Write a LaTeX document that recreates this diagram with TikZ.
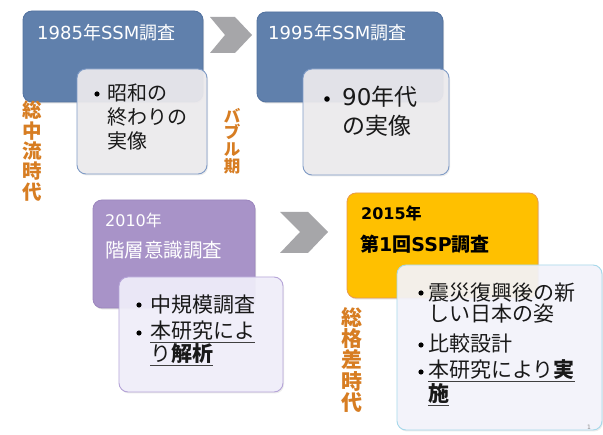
\documentclass[tikz,border=0pt]{standalone}
\usepackage{fontspec}
\setmainfont{Noto Sans CJK JP}
\newfontfamily\lat{DejaVu Sans}
\usetikzlibrary{shadows}
\definecolor{ssmblue}{HTML}{6080AC}
\definecolor{ssmbluedk}{HTML}{5272A0}
\definecolor{ovgray}{HTML}{EDEBEE}
\definecolor{ovblue}{HTML}{7F9BC6}
\definecolor{purp}{HTML}{A893C8}
\definecolor{purpdk}{HTML}{9C86BE}
\definecolor{ovpurp}{HTML}{F1EFFB}
\definecolor{ovpurpdk}{HTML}{B5A4D8}
\definecolor{gold}{HTML}{FFC000}
\definecolor{golddk}{HTML}{E99A4A}
\definecolor{ovcyan}{HTML}{F4F4FC}
\definecolor{ovcyandk}{HTML}{A6D8EA}
\definecolor{chev}{HTML}{A6A6A9}
\definecolor{era}{HTML}{D77D22}
\newcommand{\ulx}[1]{\setbox0\hbox{#1}\rlap{\color{black!75}\raisebox{-4.5pt}{\rule{\wd0}{1.2pt}}}\box0}
\tikzset{
  mainbox/.style={rounded corners=9pt, line width=0.8pt, drop shadow={opacity=0.25, shadow xshift=1pt, shadow yshift=-1.5pt}},
  ovbox/.style={rounded corners=9pt, line width=0.9pt, fill opacity=0.92, drop shadow={opacity=0.15, shadow xshift=1pt, shadow yshift=-1.5pt}},
  chevron/.style={fill=chev},
  ttl/.style={anchor=base west, inner sep=0pt, text=white},
  ln/.style={anchor=base west, inner sep=0pt, text=black!90},
  bul/.style={fill=black},
  eralabel/.style={inner sep=0pt, text=era, align=center},
}
\begin{document}
\begin{tikzpicture}[x=1pt,y=-1pt]
\useasboundingbox (0,0) rectangle (603,435);
\fill[white] (0,0) rectangle (603,435);

% chevrons
\fill[chevron] (210,17) -- (235,17) -- (252,35) -- (235,53) -- (210,53) -- (225,35) -- cycle;
\fill[chevron] (280,212) -- (308,212) -- (328,232) -- (308,253) -- (280,253) -- (300,232) -- cycle;

% box 1
\draw[mainbox, fill=ssmblue, draw=ssmbluedk] (23,11) rectangle (203,102);
\node[ttl, font=\fontsize{18}{20}\selectfont] (t1) at (37,40) {{\lat 1985}年{\lat SSM}調査};
\draw[ovbox, fill=ovgray, draw=ovblue] (77,69) rectangle (207,174);
\fill[bul] (97,94) circle (2.6);
\node[ln, font=\fontsize{20}{24}\selectfont] (a1) at (107,101) {昭和の};
\node[ln, font=\fontsize{20}{24}\selectfont] (a2) at (107,125) {終わりの};
\node[ln, font=\fontsize{20}{24}\selectfont] (a3) at (107,149) {実像};

% box 2
\draw[mainbox, fill=ssmblue, draw=ssmbluedk] (257,12) rectangle (443,102);
\node[ttl, font=\fontsize{18}{20}\selectfont] (t2) at (268,40) {{\lat 1995}年{\lat SSM}調査};
\draw[ovbox, fill=ovgray, draw=ovblue] (303,69) rectangle (449,175);
\fill[bul] (327,99) circle (2.8);
\node[ln, font=\fontsize{23}{28}\selectfont] (b1) at (342,106) {{\lat 90}年代};
\node[ln, font=\fontsize{23}{28}\selectfont] (b2) at (342,135) {の実像};

% box 3
\draw[mainbox, fill=purp, draw=purpdk] (93,200) rectangle (255,308);
\node[ttl, font=\fontsize{16}{18}\selectfont] (t3a) at (105,227) {{\lat 2010}年};
\node[ttl, font=\fontsize{19.5}{22}\selectfont] (t3b) at (105,258) {階層意識調査};
\draw[ovbox, fill=ovpurp, draw=ovpurpdk] (119,277) rectangle (283,392);
\fill[bul] (139,305) circle (2.6);
\node[ln, font=\fontsize{21}{24}\selectfont] (c1) at (150,313) {中規模調査};
\fill[bul] (139,333) circle (2.6);
\node[ln, font=\fontsize{21}{24}\selectfont] (c2) at (150,339) {\ulx{本研究によ}};
\node[ln, font=\fontsize{21}{24}\selectfont] (c3) at (150,362) {\ulx{り\textbf{解析}}};

% box 4
\draw[mainbox, fill=gold, draw=golddk] (347,193) rectangle (538,298);
\node[ttl, text=black, font=\fontsize{16}{18}\selectfont\bfseries] (t4a) at (361,220) {{\lat\bfseries 2015}年};
\node[ttl, text=black, font=\fontsize{19}{22}\selectfont\bfseries] (t4b) at (360,252) {第{\lat\bfseries 1}回{\lat\bfseries SSP}調査};
\draw[ovbox, fill=ovcyan, draw=ovcyandk] (397,265) rectangle (602,430);
\fill[bul] (421,293) circle (2.6);
\node[ln, font=\fontsize{21}{24}\selectfont] (d1) at (428,301) {震災復興後の新};
\node[ln, font=\fontsize{21}{24}\selectfont] (d2) at (428,322) {しい日本の姿};
\fill[bul] (421,345) circle (2.6);
\node[ln, font=\fontsize{21}{24}\selectfont] (d3) at (428,352) {比較設計};
\fill[bul] (421,372) circle (2.6);
\node[ln, font=\fontsize{21}{24}\selectfont] (d4) at (428,378) {\ulx{本研究により\textbf{実}}};
\node[ln, font=\fontsize{21}{24}\selectfont] (d5) at (428,402) {\ulx{\textbf{施}}};
\node[inner sep=0pt, text=black!45, font=\fontsize{6}{7}\selectfont\lat] (pg) at (589,427) {1};

% era labels
\node[eralabel, font=\fontsize{19.5}{20.3}\selectfont\bfseries] (e1) at (32,151) {総\\中\\流\\時\\代};
\node[eralabel, font=\fontsize{16.5}{16.7}\selectfont\bfseries] (e2) at (232,141) {バ\\ブ\\ル\\期};
\node[eralabel, font=\fontsize{21}{21.3}\selectfont\bfseries] (e3) at (352,360) {総\\格\\差\\時\\代};
\end{tikzpicture}
\end{document}
